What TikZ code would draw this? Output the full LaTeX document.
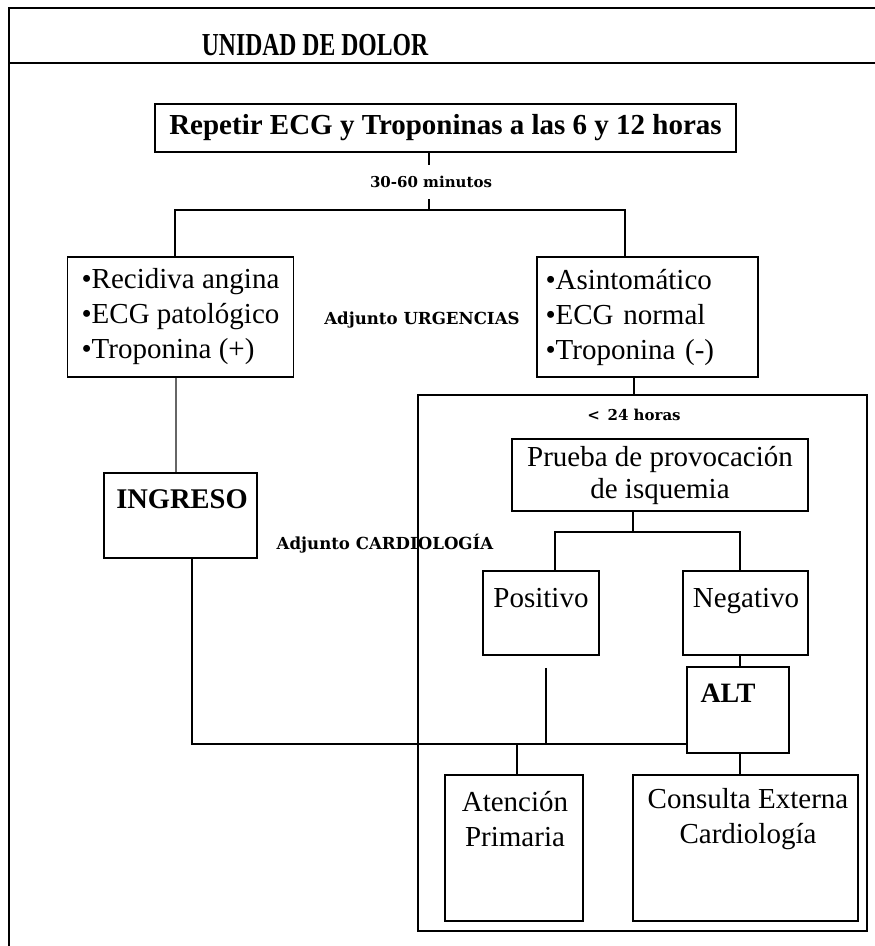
\documentclass[tikz,border=0pt]{standalone}
\usepackage{fontspec}
\setmainfont{Liberation Serif}
\newfontfamily\labfont{DejaVu Serif}
\begin{document}
\begin{tikzpicture}[x=1pt,y=-1pt,
  box/.style={draw, line width=1.6pt, inner sep=0pt, align=center},
  conn/.style={line width=1.6pt},
  big/.style={font=\fontsize{29}{35}\selectfont},
  bigb/.style={font=\fontsize{29}{34}\selectfont\bfseries},
  lab/.style={font=\labfont\fontsize{15}{18}\selectfont\bfseries, inner sep=0pt},
  labw/.style={font=\labfont\fontsize{16.6}{18}\selectfont\bfseries, inner sep=0pt},
  txt/.style={inner sep=0pt, align=center}]
\useasboundingbox (0,0) rectangle (875,946);
% outer frame
\draw[line width=1.8pt] (9,946) -- (9,8) -- (878,8);
\draw[line width=2.4pt] (9,63) -- (878,63);
\node[txt, font=\fontsize{32}{36}\selectfont\bfseries, xscale=0.74, anchor=base] (title) at (315,55) {UNIDAD DE DOLOR};

% boxes
\node[box, bigb, minimum width=581pt, minimum height=48pt] (top) at (445.5,128) {Repetir ECG y Troponinas a las 6 y 12 horas};
\node[box, big, align=left, minimum width=226pt, minimum height=120pt] (L) at (180.5,317) {•Recidiva angina\\•ECG patológico\\•Troponina (+)};
\node[box, big, align=left, text width=204pt, inner xsep=8.5pt, minimum height=120pt] (R) at (647.5,317) {•Asintomático\\•ECG normal\\•Troponina (-)};
\node[box, minimum width=153pt, minimum height=85pt] (ing) at (180.5,515.5) {};
\node[box, minimum width=449pt, minimum height=536pt] (bigbox) at (642.5,663) {};
\node[box, font=\fontsize{29}{32}\selectfont, minimum width=296pt, minimum height=72pt] (pr) at (660,475) {Prueba de provocación\\de isquemia};
\node[box, minimum width=116pt, minimum height=84pt] (pos) at (541,613) {};
\node[box, minimum width=125pt, minimum height=84pt] (neg) at (745.5,613) {};
\node[box, minimum width=102pt, minimum height=86pt] (alt) at (738,710) {};
\node[box, minimum width=138pt, minimum height=146pt] (ap) at (514,848) {};
\node[box, minimum width=225pt, minimum height=146pt] (ce) at (745.5,848) {};

% texts
\node[txt, font=\fontsize{28.5}{30}\selectfont\bfseries, anchor=base] (ingt) at (182,508) {INGRESO};
\node[txt, big, anchor=base] (post) at (541,607) {Positivo};
\node[txt, big, anchor=base] (negt) at (746,607) {Negativo};
\node[txt, font=\fontsize{28}{30}\selectfont\bfseries, anchor=base] (altt) at (728,702) {ALT};
\node[txt, big] (apt) at (515,819) {Atención\\Primaria};
\node[txt, big] (cet) at (748,819) {Consulta Externa\\Cardiología};
\node[lab, inner ysep=11pt] (m30) at (431,182) {30-60 minutos};
\node[labw] (urg) at (422,320) {Adjunto URGENCIAS};
\node[labw] (card) at (385,544) {Adjunto CARDIOLOGÍA};
\node[lab] (h24) at (634,415) {<\, 24 horas};

% junction coordinates
\coordinate (j1) at (429,210);
\coordinate (jL) at (175,210);
\coordinate (jR) at (625,210);
\coordinate (jP) at (633,532);
\coordinate (jPL) at (555,532);
\coordinate (jPR) at (740,532);
\coordinate (bus) at (517,744);

% connectors
\draw[conn] (top.south -| j1) -- (m30.north -| j1);
\draw[conn] (m30.south -| j1) -- (j1);
\draw[conn] (jL |- L.north) -- (jL) -- (jR) -- (jR |- R.north);
\draw[line width=2.6pt, black!60] ([xshift=-4.5pt]L.south) -- ([xshift=-4.5pt]L.south |- ing.north);
\draw[conn] ([xshift=-13.5pt]R.south) -- ([xshift=-13.5pt]R.south |- bigbox.north);
\draw[conn] ([xshift=11.5pt]ing.south) |- (alt.west |- bus);
\draw[conn] ([xshift=5pt,yshift=-12pt]pos.south) -- ([xshift=5pt]pos.south |- bus) -- (bus);
\draw[conn] (bus) -- (ap.north -| bus);
\draw[conn] (pr.south -| jP) -- (jP);
\draw[conn] (jPL |- pos.north) -- (jPL) -- (jPR) -- (jPR |- neg.north);
\draw[conn] (neg.south -| jPR) -- (alt.north -| jPR);
\draw[conn] (alt.south -| jPR) -- (ce.north -| jPR);
\end{tikzpicture}
\end{document}
